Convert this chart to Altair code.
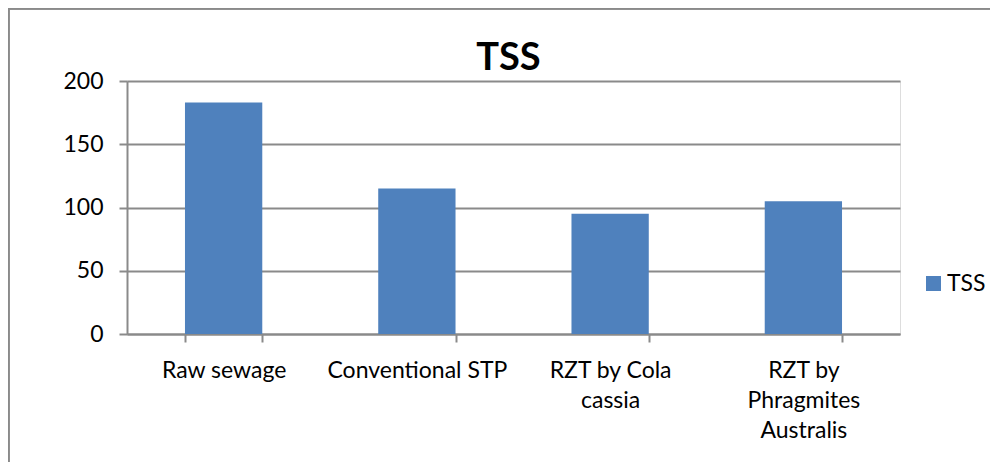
import altair as alt
import pandas as pd

categories = ["Raw sewage", "Conventional STP", "RZT by Cola\ncassia", "RZT by\nPhragmites\nAustralis"]
tss_values = [183, 115, 95, 105]
series_name = "TSS"
y_ticks = [0, 50, 100, 150, 200]

df = pd.DataFrame({"category": categories, "value": tss_values, "series": [series_name] * len(categories)})

FONT = "Lato"
GRID = "#8a8a8a"
BAR = "#4F81BD"

bars = alt.Chart(df).mark_bar(color=BAR).encode(
    x=alt.X(
        "category:N",
        sort=categories,
        scale=alt.Scale(paddingInner=0.6, paddingOuter=0.3),
        axis=alt.Axis(
            title=None,
            labelAngle=0,
            labelExpr="split(datum.label, '\\n')",
            labelFont=FONT,
            labelFontSize=23,
            labelColor="#000000",
            labelLineHeight=30,
            labelPadding=17,
            labelBaseline="top",
            tickBand="extent",
            tickSize=8,
            tickColor=GRID,
            tickWidth=2,
            domainColor=GRID,
            domainWidth=2,
            grid=False,
        ),
    ),
    y=alt.Y(
        "value:Q",
        scale=alt.Scale(domain=[0, 200]),
        axis=alt.Axis(
            title=None,
            values=y_ticks,
            labelFont=FONT,
            labelFontSize=23,
            labelColor="#000000",
            labelPadding=16,
            tickSize=8,
            tickColor=GRID,
            tickWidth=2,
            domainColor=GRID,
            domainWidth=2,
            gridColor=GRID,
            gridWidth=2,
        ),
    ),
    color=alt.Color(
        "series:N",
        scale=alt.Scale(domain=[series_name], range=[BAR]),
        legend=alt.Legend(
            title=None,
            orient="none",
            legendX=795,
            legendY=191,
            symbolType="square",
            symbolSize=225,
            symbolStrokeWidth=0,
            labelFont=FONT,
            labelFontSize=23,
            labelColor="#000000",
            labelOffset=2,
            padding=0,
        ),
    ),
)

frame = alt.Chart(df).mark_rect(fill=None, stroke=GRID, strokeWidth=2).encode(
    x=alt.value(-118.5), y=alt.value(-72.5), x2=alt.value(1200), y2=alt.value(700)
)

chart = alt.layer(frame, bars).properties(
    width=773,
    height=253,
    padding={"left": 119, "top": 73, "right": 90, "bottom": 128},
    autosize=alt.AutoSizeParams(type="none"),
    title=alt.TitleParams(
        text="TSS",
        font=FONT,
        fontSize=38,
        fontWeight="bold",
        color="#000000",
        anchor="middle",
        frame="group",
        dx=-5,
        offset=-70,
    ),
).configure_view(stroke=None).configure(background="white")

chart.save("out.html", embed_options={"renderer": "svg", "actions": False})
